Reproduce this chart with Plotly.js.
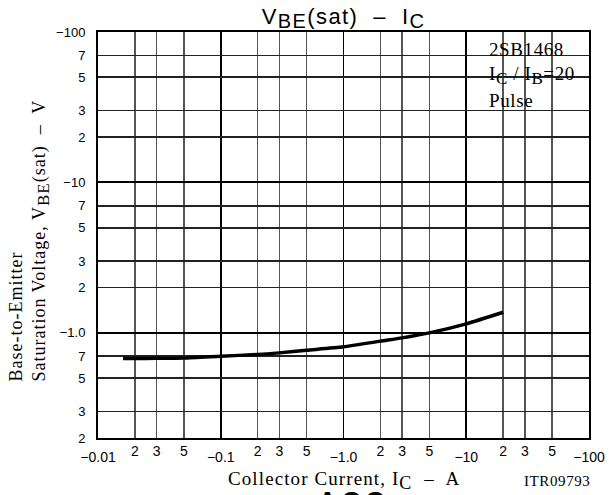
<!DOCTYPE html>
<html>
<head>
<meta charset="utf-8">
<script src="https://cdn.plot.ly/plotly-3.0.1.min.js"></script>
<style>html,body{margin:0;padding:0;background:#fff;}#chart{width:609px;height:495px;}</style>
</head>
<body>
<div id="chart"></div>
<script>
// Collector current magnitude (A) and V_BE(sat) magnitude (V); both negative in the original
var icAmps = [0.016, 0.02, 0.03, 0.05, 0.1, 0.2, 0.3, 0.5, 1, 2, 3, 5, 10, 20];
var vbeSat = [0.675, 0.675, 0.677, 0.681, 0.70, 0.718, 0.736, 0.766, 0.807, 0.881, 0.926, 1.0, 1.148, 1.37];

var xDecadeVals = [0.01, 0.1, 1, 10, 100];
var xDecadeText = ['\u22120.01', '\u22120.1', '\u22121.0', '\u221210', '\u2212100'];
var xMinorVals = [0.02, 0.03, 0.05, 0.2, 0.3, 0.5, 2, 3, 5, 20, 30, 50];
var xMinorText = ['2', '3', '5', '2', '3', '5', '2', '3', '5', '2', '3', '5'];

var yTickVals = [0.2, 0.3, 0.5, 0.7, 1, 2, 3, 5, 7, 10, 20, 30, 50, 70, 100];
var yTickText = ['2', '3', '5', '7', '\u22121.0', '2', '3', '5', '7', '\u221210', '2', '3', '5', '7', '\u2212100'];
var yDecadeVals = [1, 10, 100];

var noteLines = ['2SB1468', 'I<sub><span style="font-size:17px">C</span></sub> / I<sub><span style="font-size:17px">B</span></sub>=20', 'Pulse'];

var sans = 'Liberation Sans, Arial, sans-serif';
var serif = 'Liberation Serif, Times New Roman, serif';

function spaced(t, ls) { return '<span style="letter-spacing:' + ls + 'px">' + t + '</span>'; }

var traces = [
  {x: icAmps, y: vbeSat, type: 'scatter', mode: 'lines',
   line: {color: '#000', width: 3.5, shape: 'spline', smoothing: 0.6},
   hoverinfo: 'skip', showlegend: false},
  {x: icAmps, y: vbeSat, xaxis: 'x2', yaxis: 'y2', type: 'scatter', mode: 'lines',
   line: {color: 'rgba(0,0,0,0)', width: 0}, hoverinfo: 'skip', showlegend: false}
];

var xRange = [Math.log10(0.01), Math.log10(100)];
var yRange = [Math.log10(0.2), Math.log10(100)];

var layout = {
  width: 609, height: 495,
  margin: {l: 98, r: 20, t: 32, b: 57},
  paper_bgcolor: '#fff', plot_bgcolor: '#fff',
  showlegend: false,
  title: {text: spaced('V<sub><span style="font-size:20px">BE</span></sub>(sat)  \u2013  I<sub><span style="font-size:20px">C</span></sub>', 1.4),
          font: {family: sans, size: 22, color: '#000'},
          x: 0.5, xref: 'paper', xanchor: 'center', y: 0.968, yref: 'container', yanchor: 'middle'},
  xaxis: {type: 'log', range: xRange, tickmode: 'array', tickvals: xDecadeVals, ticktext: xDecadeText,
          ticks: '', ticklabelstandoff: 5, tickfont: {family: sans, size: 14, color: '#000'},
          showgrid: true, gridcolor: '#000', gridwidth: 1.6,
          minor: {tickmode: 'array', tickvals: xMinorVals, showgrid: true, gridcolor: '#555', gridwidth: 1.5, ticks: ''},
          showline: true, linecolor: '#000', linewidth: 2, mirror: true, zeroline: false, fixedrange: true},
  xaxis2: {type: 'log', range: xRange, overlaying: 'x', anchor: 'y2', side: 'bottom', tickmode: 'array',
           tickvals: xMinorVals, ticktext: xMinorText, ticks: '', ticklabelstandoff: 3,
           tickfont: {family: sans, size: 14, color: '#000'}, showgrid: false, showline: false, zeroline: false, fixedrange: true},
  yaxis: {type: 'log', range: yRange, tickmode: 'array', tickvals: yTickVals, ticktext: yTickText,
          ticks: '', ticklabelstandoff: 8, tickfont: {family: sans, size: 13, color: '#000'},
          showgrid: true, gridcolor: '#222', gridwidth: 1.6,
          showline: true, linecolor: '#000', linewidth: 2, mirror: true, zeroline: false, fixedrange: true},
  yaxis2: {type: 'log', range: yRange, overlaying: 'y', anchor: 'x2', side: 'left', tickmode: 'array',
           tickvals: yDecadeVals, showticklabels: false, ticks: '', showgrid: true, gridcolor: '#000', gridwidth: 2,
           showline: false, zeroline: false, fixedrange: true},
  shapes: [
    {type: 'rect', xref: 'paper', yref: 'paper', x0: 0.782, x1: 0.997, y0: 0.808, y1: 0.997,
     fillcolor: '#fff', line: {width: 0}, layer: 'between'}
  ],
  annotations: []
};

var noteY = [0.958, 0.894, 0.8325];
noteLines.forEach(function (t, i) {
  layout.annotations.push({text: spaced(t, 0.6), xref: 'paper', yref: 'paper', x: 0.7916, y: noteY[i],
    xanchor: 'left', yanchor: 'middle', showarrow: false, font: {family: serif, size: 19, color: '#000'}});
});

layout.annotations.push({text: spaced('Collector Current, I<sub><span style="font-size:18px">C</span></sub>  \u2013  A', 1.1),
  xref: 'paper', yref: 'paper',
  x: 0.5, y: -0.105, xanchor: 'center', yanchor: 'middle', showarrow: false,
  font: {family: serif, size: 19, color: '#000'}});
layout.annotations.push({text: spaced('ITR09793', 0.6), xref: 'paper', yref: 'paper', x: 0.935, y: -0.107,
  xanchor: 'center', yanchor: 'middle', showarrow: false, font: {family: serif, size: 15, color: '#000'}});
layout.annotations.push({text: spaced('Base-to-Emitter', 1) + '<br>' +
    spaced('Saturation Voltage, V<sub><span style="font-size:17px">BE</span></sub>(sat)  \u2013  V', 1),
  xref: 'paper', yref: 'paper', x: -0.14, y: 0.487, xanchor: 'center', yanchor: 'middle', textangle: -90,
  align: 'left', showarrow: false, font: {family: serif, size: 18, color: '#000'}});
layout.annotations.push({text: spaced('<b>ACC</b>', 5), xref: 'paper', yref: 'paper', x: 0.52, y: -0.114,
  xanchor: 'center', yanchor: 'top', showarrow: false, font: {family: sans, size: 26, color: '#000'}});

Plotly.newPlot('chart', traces, layout, {staticPlot: true, displayModeBar: false});
</script>
</body>
</html>
